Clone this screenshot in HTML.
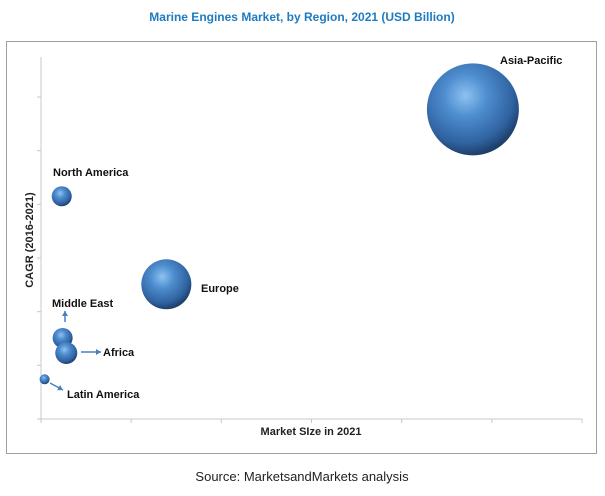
<!DOCTYPE html>
<html><head><meta charset="utf-8"><style>
body{margin:0;background:#fff;width:605px;height:491px;overflow:hidden;font-family:"Liberation Sans",sans-serif}
</style></head><body>
<svg width="605" height="491" xmlns="http://www.w3.org/2000/svg">
<defs>
<radialGradient id="g" cx="0.42" cy="0.35" r="0.65">
<stop offset="0" stop-color="#8ec3f0"/><stop offset="0.35" stop-color="#4f8ed0"/><stop offset="0.8" stop-color="#2f62a0"/><stop offset="1" stop-color="#1d3f6b"/>
</radialGradient>
</defs>
<text x="302" y="21" text-anchor="middle" font-size="12" font-weight="bold" fill="#1f7bc0">Marine Engines Market, by Region, 2021 (USD Billion)</text>
<rect x="6.5" y="41.5" width="590" height="412" fill="none" stroke="#a0a0a0"/>
<g id="axes"></g>
<g id="bubbles"></g>
<text x="311" y="435" text-anchor="middle" font-size="11" font-weight="bold" fill="#222">Market SIze in 2021</text>
<text transform="translate(33,240) rotate(-90)" text-anchor="middle" font-size="11" font-weight="bold" fill="#222">CAGR (2016-2021)</text>
<text x="302" y="481" text-anchor="middle" font-size="13" fill="#222">Source: MarketsandMarkets analysis</text>
</svg>
<script>
const regions=["Asia-Pacific","North America","Europe","Middle East","Africa","Latin America"];
const marketSize=[4.79,0.23,1.39,0.24,0.28,0.04];
const cagr=[5.77,4.15,2.51,1.51,1.23,0.74];
const bubbleSize=[2116,100,625,100,121,25];
const xTicks=[0,1,2,3,4,5,6];
const yTicks=[0,1,2,3,4,5,6];
const NS="http://www.w3.org/2000/svg";
const X0=41,X1=582,Y0=419,Y1=97;
const xs=v=>X0+(X1-X0)*v/6;
const ys=v=>Y0-(Y0-Y1)*v/6;
const rs=v=>Math.sqrt(v);
function mk(t,a,p){const e=document.createElementNS(NS,t);for(const k in a)e.setAttribute(k,a[k]);p.appendChild(e);return e;}
const ax=document.getElementById('axes');
let l=mk('line',{x1:X0,y1:57,x2:X0,y2:Y0,stroke:'#c8c8c8'},ax);


l=mk('line',{x1:X0,y1:Y0,x2:X1,y2:Y0,stroke:'#c8c8c8'},ax);


xTicks.forEach(t=>{const e=mk('line',{x1:xs(t),y1:Y0,x2:xs(t),y2:Y0+4,stroke:'#c8c8c8'},ax);

});
yTicks.forEach(t=>{const e=mk('line',{x1:X0-4,y1:ys(t),x2:X0,y2:ys(t),stroke:'#c8c8c8'},ax);

});
const bg=document.getElementById('bubbles');
regions.forEach((r,i)=>{const c=mk('circle',{cx:xs(marketSize[i]),cy:ys(cagr[i]),r:rs(bubbleSize[i]),fill:'url(#g)'},bg);

});
const lab=[[500,64,'start'],[53,176,'start'],[201,292,'start'],[52,307,'start'],[103,356,'start'],[67,398,'start']];
regions.forEach((r,i)=>{const t=mk('text',{x:lab[i][0],y:lab[i][1],'font-size':11,'font-weight':'bold',fill:'#111'},bg);t.textContent=r;

});
const arrows=[[65,322,65,311],[81,352,101,352],[50,383,63,390]];
arrows.forEach(a=>{const g=mk('g',{},bg);


mk('line',{x1:a[0],y1:a[1],x2:a[2],y2:a[3],stroke:'#4a7fc0','stroke-width':1.5},g);
const ang=Math.atan2(a[3]-a[1],a[2]-a[0]),s=5;
const p=[[a[2],a[3]],[a[2]-s*Math.cos(ang)+3*Math.sin(ang),a[3]-s*Math.sin(ang)-3*Math.cos(ang)],[a[2]-s*Math.cos(ang)-3*Math.sin(ang),a[3]-s*Math.sin(ang)+3*Math.cos(ang)]];
mk('polygon',{points:p.map(q=>q.join(',')).join(' '),fill:'#4a7fc0'},g);});
</script>
</body></html>
